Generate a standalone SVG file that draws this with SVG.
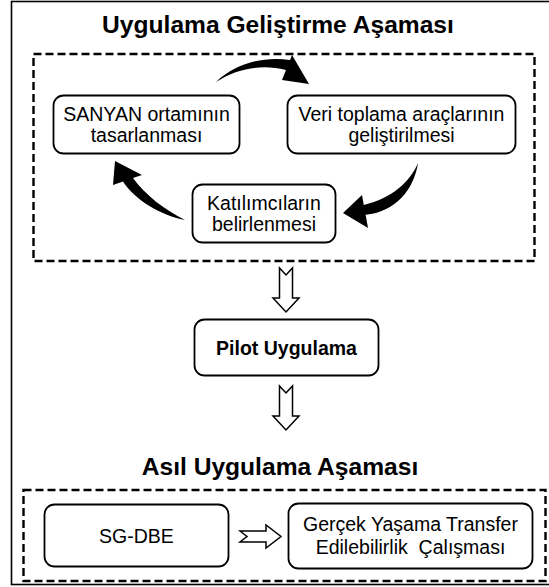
<svg xmlns="http://www.w3.org/2000/svg" width="549" height="587" viewBox="0 0 549 587">
  <style>
    .frame { fill: none; stroke: #000; stroke-width: 1.6; }
    .stage { fill: none; stroke: #000; stroke-width: 2.4; stroke-dasharray: 8 4; }
    .box { fill: #fff; stroke: #000; stroke-width: 1.8; }
    .title { font-family: "Liberation Sans", Arial, sans-serif; font-weight: bold; font-size: 24.6px; fill: #000; text-anchor: middle; }
    .label { font-family: "Liberation Sans", Arial, sans-serif; font-size: 19.5px; fill: #000; text-anchor: middle; }
    .bold { font-weight: bold; font-size: 19.5px; }
    .curve { fill: #000; stroke: none; }
    .block { fill: #fff; stroke: #000; stroke-width: 1.5; stroke-linejoin: miter; }
  </style>
  <rect width="549" height="587" fill="#fff"/>

  <!-- outer frame, open to the right edge -->
  <rect class="frame" x="11.5" y="1.5" width="545" height="583"/>

  <!-- development stage -->
  <text class="title" x="278" y="33">Uygulama Geliştirme Aşaması</text>
  <rect class="stage" x="33.5" y="54" width="501" height="207"/>

  <g id="node-sanyan">
    <rect class="box" x="53.5" y="95.5" width="186" height="58" rx="10"/>
    <text class="label" x="146.5" y="121">SANYAN ortamının</text>
    <text class="label" x="146.5" y="142">tasarlanması</text>
  </g>
  <g id="node-veri">
    <rect class="box" x="287.5" y="95.5" width="228" height="58" rx="10"/>
    <text class="label" x="401.5" y="121">Veri toplama araçlarının</text>
    <text class="label" x="401.5" y="142">geliştirilmesi</text>
  </g>
  <g id="node-katilimci">
    <rect class="box" x="192.5" y="184.5" width="143" height="58" rx="10"/>
    <text class="label" x="264" y="210">Katılımcıların</text>
    <text class="label" x="264" y="231">belirlenmesi</text>
  </g>

  <g id="node-pilot">
    <rect class="box" x="194.5" y="319.5" width="184" height="56" rx="10"/>
    <text class="label bold" x="286.5" y="355">Pilot Uygulama</text>
  </g>

  <!-- main stage -->
  <text class="title" x="280" y="475">Asıl Uygulama Aşaması</text>
  <rect class="stage" x="23.5" y="490" width="522" height="91"/>

  <g id="node-sgdbe">
    <rect class="box" x="44.5" y="504.5" width="184" height="62" rx="10"/>
    <text class="label" x="136.5" y="543">SG-DBE</text>
  </g>
  <g id="node-gercek">
    <rect class="box" x="288.5" y="503.5" width="244" height="65" rx="10"/>
    <text class="label" x="410.5" y="531">Gerçek Yaşama Transfer</text>
    <text class="label" x="410.5" y="554" xml:space="preserve">Edilebilirlik  Çalışması</text>
  </g>

  <g id="connectors">
    <!-- cycle arrows -->
    <path class="curve" d="M 216,82 C 235,64 262,56 290,60 L 292,55 L 309,84 L 282,80 L 286,70 C 262,64 238,68 216,82 Z"/>
    <path class="curve" d="M 418,163 C 414,190 395,212 365.6,214.8 L 368,228 L 343,213 L 362,195 L 363.8,205 C 392,198 410,182 418,163 Z"/>
    <path class="curve" d="M 185,220 C 160,215 135,200 123,181.5 L 113,185 L 115,161 L 142,175 L 133,178 C 145,195 165,210 185,220 Z"/>
    <!-- stage transitions -->
    <path class="block" d="M 279.5,268 L 286,275 L 292.5,268 L 292.5,298 L 299,298 L 286,312 L 273,298 L 279.5,298 Z"/>
    <path class="block" d="M 279.5,386 L 286,393 L 292.5,386 L 292.5,416 L 299,416 L 286,430 L 273,416 L 279.5,416 Z"/>
    <path class="block" d="M 240,531 L 247,536.5 L 240,542 L 266,542 L 266,548 L 281,536.5 L 266,525 L 266,531 Z"/>
  </g>
</svg>
